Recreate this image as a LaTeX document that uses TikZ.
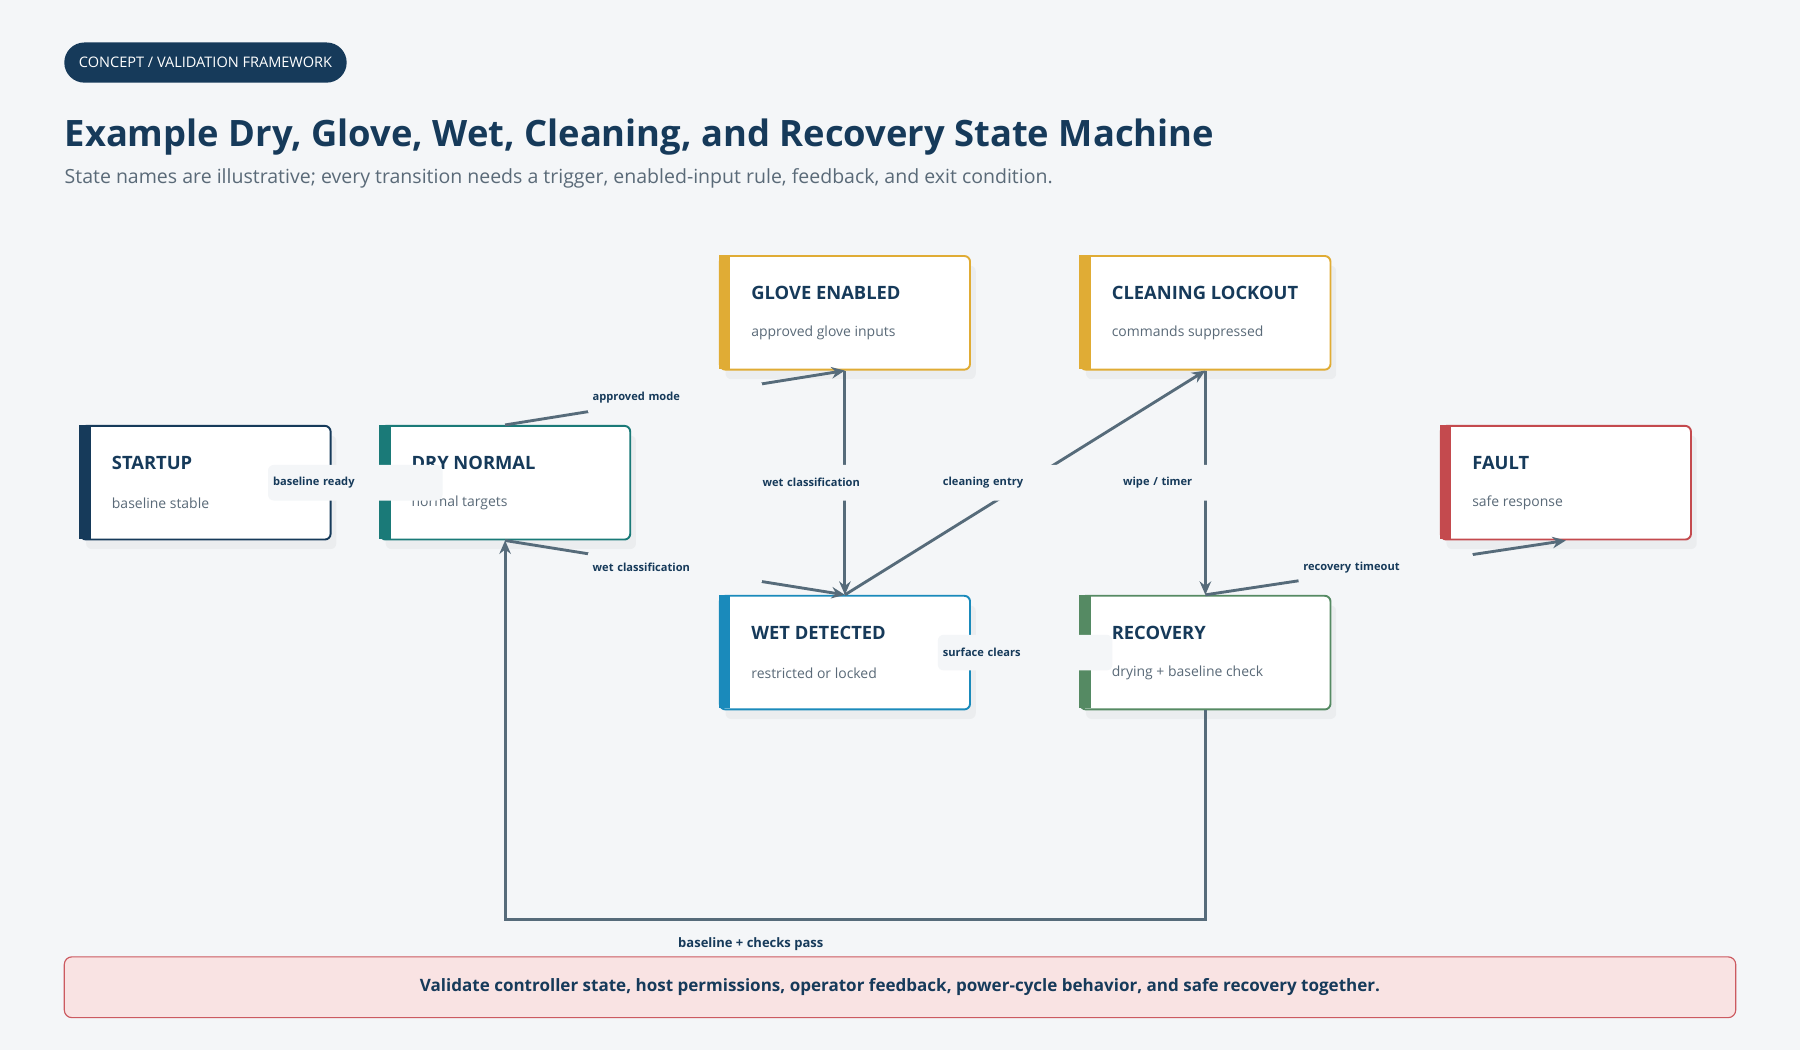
\documentclass[tikz,border=0pt]{standalone}
\usepackage{fontspec}
\setmainfont{Open Sans}
\usetikzlibrary{shadows,arrows.meta,calc}
\definecolor{bg}{HTML}{F4F6F8}
\definecolor{navy}{HTML}{163A5A}
\definecolor{teal}{HTML}{1A7A78}
\definecolor{gold}{HTML}{E0AC35}
\definecolor{wblue}{HTML}{1A8ABB}
\definecolor{rgreen}{HTML}{558A63}
\definecolor{fred}{HTML}{C44A4E}
\definecolor{edgec}{HTML}{566B7A}
\definecolor{subc}{HTML}{5A6A78}
\definecolor{notefill}{HTML}{F9E3E3}
\definecolor{noteline}{HTML}{CC5A60}
\tikzset{
  state/.style={draw=#1, line width=1pt, fill=white, rounded corners=3pt,
    minimum width=130.8pt, minimum height=59.4pt, inner sep=0pt,
    drop shadow={opacity=0.07, shadow xshift=3pt, shadow yshift=-5pt}},
  ttl/.style={anchor=west, font=\fontsize{9.6}{12}\selectfont\bfseries, text=navy, inner sep=0pt},
  sub/.style={anchor=west, font=\fontsize{7.3}{9}\selectfont, text=subc, inner sep=0pt},
  edge/.style={draw=edgec, line width=1.5pt, -{Stealth[length=7pt,width=6pt]}},
  lbl/.style={fill=bg, rounded corners=3pt, minimum width=91.2pt, minimum height=18.6pt,
    text width=86pt, align=left, inner sep=2.5pt, font=\fontsize{5.8}{7}\selectfont\bfseries, text=navy}
}
\newcommand{\stbox}[6]{%
  \node[state=#4] (#1) at (#2,#3) {};
  \fill[#4] (#1.north west) rectangle ++(6pt,-59.4pt);
  \node[ttl] at ($(#1.north west)+(16.8pt,-19.8pt)$) {#5};
  \node[sub] at ($(#1.north west)+(16.8pt,-40.8pt)$) {#6};
}
\begin{document}
\begin{tikzpicture}[x=0.6pt,y=-0.6pt]
\fill[bg] (0,0) rectangle (1568,915);
\useasboundingbox (0,0) rectangle (1568,915);
% header
\node[fill=navy, rounded corners=10.5pt, minimum width=147.6pt, minimum height=21pt, inner sep=0pt,
  text=white, font=\fontsize{7.6}{9}\selectfont] (pill) at (179,54.5) {CONCEPT / VALIDATION FRAMEWORK};
\node[anchor=west, inner sep=0pt, text=navy, font=\fontsize{19}{22}\selectfont\bfseries] (title) at (56,119)
  {Example Dry, Glove, Wet, Cleaning, and Recovery State Machine};
\node[anchor=west, inner sep=0pt, text=subc, font=\fontsize{10.2}{12}\selectfont] (subtitle) at (56,155)
  {State names are illustrative; every transition needs a trigger, enabled-input rule, feedback, and exit condition.};
% states
\stbox{startup}{179}{420.5}{navy}{STARTUP}{baseline stable}
\stbox{dry}{440}{420.5}{teal}{DRY NORMAL}{normal targets}
\stbox{glove}{736}{272.5}{gold}{GLOVE ENABLED}{approved glove inputs}
\stbox{clean}{1050}{272.5}{gold}{CLEANING LOCKOUT}{commands suppressed}
\stbox{wet}{736}{568.5}{wblue}{WET DETECTED}{restricted or locked}
\stbox{recov}{1050}{568.5}{rgreen}{RECOVERY}{drying + baseline check}
\stbox{fault}{1364}{420.5}{fred}{FAULT}{safe response}
% edges
\draw[edge] (startup.east) -- node[lbl]{baseline ready} (dry.west);
\draw[edge] (dry.north) -- node[lbl]{approved mode} (glove.south);
\draw[edge] (glove.south) -- node[lbl]{wet classification} (wet.north);
\draw[edge] (dry.south) -- node[lbl]{wet classification} (wet.north);
\draw[edge] (wet.north) -- node[lbl]{cleaning entry} (clean.south);
\draw[edge] (clean.south) -- node[lbl]{wipe / timer} (recov.north);
\draw[edge] (recov.north) -- node[lbl]{recovery timeout} (fault.south);
\draw[edge] (wet.east) -- node[lbl]{surface clears} (recov.west);
\coordinate (c1) at (1050,801);
\coordinate (c2) at (440,801);
\draw[edge] (recov.south) -- (c1) -- (c2) -- (dry.south);
\node[inner sep=0pt, text=navy, font=\fontsize{6.8}{8}\selectfont\bfseries] (looplbl) at (654,822) {baseline + checks pass};
% bottom note
\node[draw=noteline, line width=0.6pt, fill=notefill, rounded corners=4pt, minimum width=873.6pt,
  minimum height=31.8pt, inner sep=0pt, text=navy, font=\fontsize{8.9}{11}\selectfont\bfseries] (note) at (784,860)
  {Validate controller state, host permissions, operator feedback, power-cycle behavior, and safe recovery together.};
\end{tikzpicture}
\end{document}
